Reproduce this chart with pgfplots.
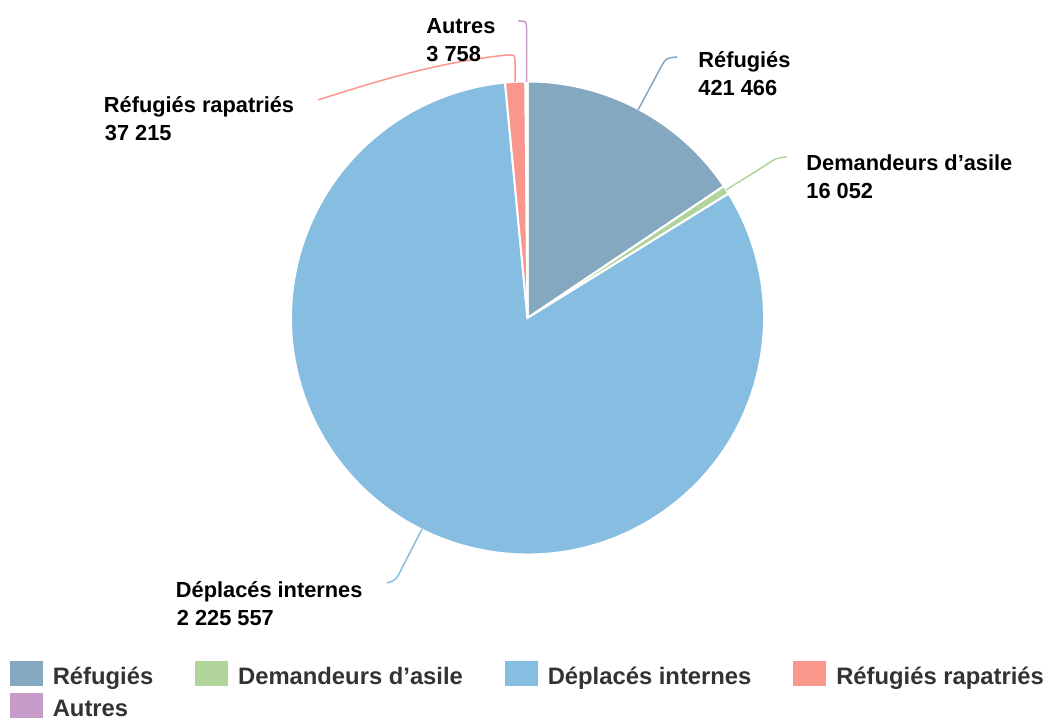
\documentclass[border=0pt]{standalone}
\usepackage{fontspec}
\setmainfont{Liberation Sans}
\usepackage{pgfplots}
\usepackage{pgfplotstable}
\pgfplotsset{compat=1.18}

\definecolor{pie0}{HTML}{84A8BF}
\definecolor{pie1}{HTML}{B1D49B}
\definecolor{pie2}{HTML}{86BDE0}
\definecolor{pie3}{HTML}{F9978D}
\definecolor{pie4}{HTML}{C69BC8}
\definecolor{legtext}{HTML}{333333}

% Réfugiés, Demandeurs d'asile, Déplacés internes, Réfugiés rapatriés, Autres
\pgfplotstableread{
value
421466
16052
2225557
37215
3758
}\pietable

% cumulative sums -> slice angles (clockwise from the top)
\gdef\cum{0}
\foreach \i in {0,...,4}{%
  \pgfplotstablegetelem{\i}{value}\of\pietable
  \expandafter\xdef\csname cS\i\endcsname{\cum}%
  \xdef\cum{\fpeval{\cum+\pgfplotsretval}}%
  \expandafter\xdef\csname cE\i\endcsname{\cum}%
}
\xdef\total{\cum}
\foreach \i in {0,...,4}{%
  \expandafter\xdef\csname aS\i\endcsname{\fpeval{90-360*\csname cS\i\endcsname/\total}}%
  \expandafter\xdef\csname aE\i\endcsname{\fpeval{90-360*\csname cE\i\endcsname/\total}}%
}

\newcommand\lbl{\fontsize{10.9}{13}\selectfont\bfseries}
\pgfplotsset{pielegend/.style={legend image code/.code={\fill[##1, draw=none] (0pt,-6.2pt) rectangle (16.4pt,6.2pt);}}}

\begin{document}
\begin{tikzpicture}
\begin{axis}[
    scale only axis,
    width=524pt, height=359pt,
    xmin=0, xmax=1048, ymin=-718, ymax=0,
    hide axis, clip=false,
    legend columns=4,
    legend cell align=left,
    legend style={at={(0.00954,0.07939)}, anchor=north west,
        draw=none, fill=none, inner sep=0pt, outer sep=0pt,
        font=\fontsize{11.9}{14}\selectfont\bfseries, text=legtext,
        row sep=3.7pt,
        nodes={inner sep=0pt, text height=11.5pt, text depth=0.8pt},
        /tikz/every odd column/.append style={column sep=5pt},
        /tikz/every even column/.append style={column sep=21pt}},
]
\pgfplotsinvokeforeach{0,...,4}{
  \filldraw[fill=pie#1, draw=white, line width=1pt]
    (axis cs:527.5,-318) -- ++(\csname aS#1\endcsname:118.25pt)
    arc[start angle=\csname aS#1\endcsname, end angle=\csname aE#1\endcsname, radius=118.25pt] -- cycle;
}

% connectors
\draw[pie0, line width=0.75pt] (axis cs:638,-110) -- (axis cs:661,-67) .. controls (axis cs:666,-58) .. (axis cs:677,-57);
\draw[pie1, line width=0.75pt] (axis cs:726,-190) -- (axis cs:766,-165) .. controls (axis cs:776,-158) .. (axis cs:787,-157);
\draw[pie2, line width=0.75pt] (axis cs:422,-529) -- (axis cs:401,-570) .. controls (axis cs:396,-580) .. (axis cs:387,-583);
\draw[pie3, line width=0.75pt] (axis cs:515,-82) -- (axis cs:515,-62) .. controls (axis cs:515,-55) .. (axis cs:507,-55)
    .. controls (axis cs:440,-62) and (axis cs:380,-80) .. (axis cs:318,-100);
\draw[pie4, line width=0.75pt] (axis cs:526.5,-82) -- (axis cs:526.5,-29) .. controls (axis cs:526.5,-21) .. (axis cs:518,-21);

% labels
\node[anchor=base west, inner sep=0pt, font=\lbl] at (axis cs:698,-68) {Réfugiés};
\node[anchor=base west, inner sep=0pt, font=\lbl] at (axis cs:698,-96) {421 466};
\node[anchor=base west, inner sep=0pt, font=\lbl] at (axis cs:806,-171) {Demandeurs d’asile};
\node[anchor=base west, inner sep=0pt, font=\lbl] at (axis cs:806,-199) {16 052};
\node[anchor=base west, inner sep=0pt, font=\lbl] at (axis cs:175.5,-597) {Déplacés internes};
\node[anchor=base west, inner sep=0pt, font=\lbl] at (axis cs:176.5,-625) {2 225 557};
\node[anchor=base west, inner sep=0pt, font=\lbl] at (axis cs:103.5,-113) {Réfugiés rapatriés};
\node[anchor=base west, inner sep=0pt, font=\lbl] at (axis cs:104.5,-141) {37 215};
\node[anchor=base west, inner sep=0pt, font=\lbl] at (axis cs:426,-34) {Autres};
\node[anchor=base west, inner sep=0pt, font=\lbl] at (axis cs:426,-62) {3 758};

\addlegendimage{pielegend, fill=pie0}\addlegendentry{Réfugiés}
\addlegendimage{pielegend, fill=pie1}\addlegendentry{Demandeurs d’asile}
\addlegendimage{pielegend, fill=pie2}\addlegendentry{Déplacés internes}
\addlegendimage{pielegend, fill=pie3}\addlegendentry{Réfugiés rapatriés}
\addlegendimage{pielegend, fill=pie4}\addlegendentry{Autres}
\end{axis}
\pgfresetboundingbox
\path[use as bounding box] (0,0) rectangle (524pt,359pt);
\end{tikzpicture}
\end{document}
